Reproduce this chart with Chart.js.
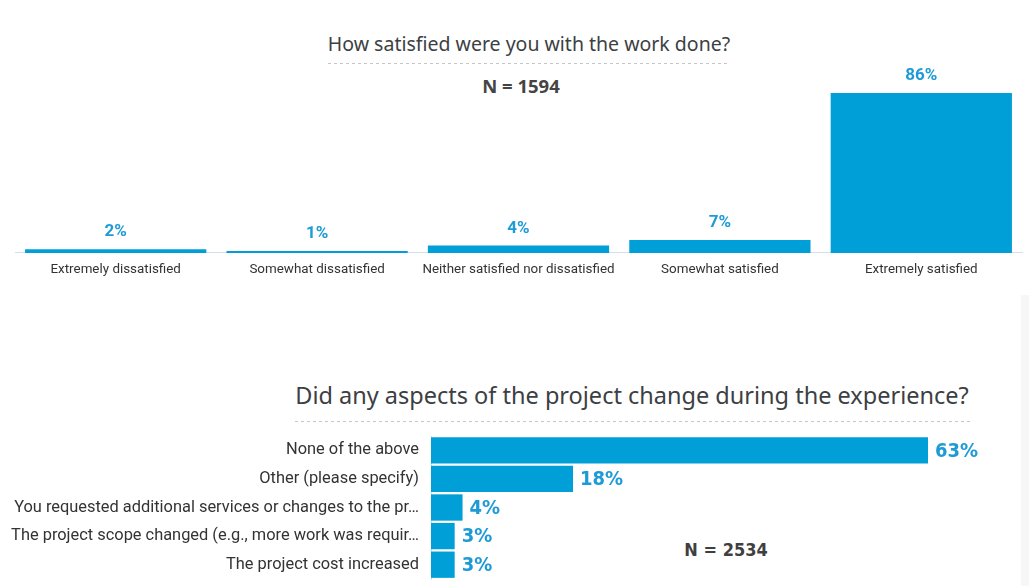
<!DOCTYPE html>
<html>
<head>
<meta charset="utf-8">
<script src="https://cdn.jsdelivr.net/npm/chart.js@4/dist/chart.umd.min.js"></script>
<style>
  html, body { margin: 0; padding: 0; background: #fff; }
  body { width: 1029px; height: 586px; position: relative; overflow: hidden; }
  .title { position: absolute; text-align: center; font-family: "Noto Sans", sans-serif; color: #3c4043; white-space: nowrap; transform: translateX(-50%); }
  .dash { position: absolute; height: 1px; background: repeating-linear-gradient(to right, #c6c6c6 0 3px, transparent 3px 6px); }
  .n { position: absolute; font-weight: bold; color: #444; white-space: nowrap; transform: translateX(-50%); }
  canvas { position: absolute; left: 0; }
  #strip { position: absolute; left: 1021px; top: 295px; width: 8px; height: 291px; background: #f7f7f7; }
</style>
</head>
<body>
<div id="strip"></div>
<div class="title" style="left:529px; top:32px; font-size:19.5px; line-height:24px;">How satisfied were you with the work done?</div>
<div class="dash" style="left:328px; top:63px; width:402px;"></div>
<div class="n" style="left:521px; top:75px; font-family:'Noto Sans',sans-serif; font-size:18.5px; line-height:22px;">N = 1594</div>

<div class="title" style="left:632px; top:380px; font-size:23.5px; line-height:30px;">Did any aspects of the project change during the experience?</div>
<div class="dash" style="left:295px; top:421px; width:675px;"></div>
<div class="n" style="left:726px; top:539px; font-family:'DejaVu Sans Condensed',sans-serif; font-size:18px; line-height:22px; color:#3f3f3f;">N = 2534</div>

<canvas id="top" width="1029" height="295" style="top:0"></canvas>
<canvas id="bottom" width="1029" height="161" style="top:425px"></canvas>

<script>
const satisfactionLabels = ["Extremely dissatisfied", "Somewhat dissatisfied", "Neither satisfied nor dissatisfied", "Somewhat satisfied", "Extremely satisfied"];
const satisfactionValues = [2, 1, 4, 7, 86];

const changeLabels = [
  "None of the above",
  "Other (please specify)",
  "You requested additional services or changes to the pr\u2026",
  "The project scope changed (e.g., more work was requir\u2026",
  "The project cost increased"
];
const changeValues = [63, 18, 4, 3, 3];

const barColor = "#019fd8";
const labelColor = "#1e9bd6";
const axisColor = "#d3def0";

// draws "NN%" next to each bar
const valueLabels = {
  id: "valueLabels",
  afterDatasetsDraw(chart, args, opts) {
    const ctx = chart.ctx;
    const meta = chart.getDatasetMeta(0);
    const data = chart.data.datasets[0].data;
    ctx.save();
    ctx.fillStyle = labelColor;
    ctx.font = opts.font;
    ctx.textBaseline = "middle";
    meta.data.forEach((bar, i) => {
      const txt = data[i] + "%";
      if (opts.horizontal) {
        ctx.textAlign = "left";
        ctx.fillText(txt, bar.x + 7, bar.y + 1);
      } else {
        ctx.textAlign = "center";
        ctx.fillText(txt, bar.x, bar.y - 17);
      }
    });
    ctx.restore();
  }
};

new Chart(document.getElementById("top").getContext("2d"), {
  type: "bar",
  data: {
    labels: satisfactionLabels,
    datasets: [{
      data: satisfactionValues,
      backgroundColor: barColor,
      barPercentage: 0.9,
      categoryPercentage: 1
    }]
  },
  options: {
    responsive: false,
    animation: false,
    layout: { padding: { left: 15, right: 7, top: 67, bottom: 8 } },
    plugins: {
      legend: { display: false },
      tooltip: { enabled: false },
      valueLabels: { font: "bold 17px Roboto" }
    },
    scales: {
      x: {
        grid: { display: false, drawTicks: false },
        border: { color: axisColor, width: 1 },
        ticks: { color: "#333", font: { family: "Roboto", size: 13.4 }, padding: 9, maxRotation: 0, autoSkip: false }
      },
      y: { display: false, min: 0, max: 100 }
    }
  },
  plugins: [valueLabels]
});

new Chart(document.getElementById("bottom").getContext("2d"), {
  type: "bar",
  data: {
    labels: changeLabels,
    datasets: [{
      data: changeValues,
      backgroundColor: barColor,
      barPercentage: 0.92,
      categoryPercentage: 1
    }]
  },
  options: {
    indexAxis: "y",
    responsive: false,
    animation: false,
    layout: { padding: { left: 0, right: 101, top: 11, bottom: 7 } },
    plugins: {
      legend: { display: false },
      tooltip: { enabled: false },
      valueLabels: { font: "bold 20px 'DejaVu Sans Condensed'", horizontal: true }
    },
    scales: {
      x: { display: false, min: 0, max: 63 },
      y: {
        grid: { display: false, drawTicks: false },
        border: { color: axisColor, width: 1 },
        ticks: { color: "#333", font: { family: "Roboto", size: 16.4 }, padding: 12, autoSkip: false },
        afterFit(scale) {
          scale.width = 431;
          scale.paddingTop = 0;
          scale.paddingBottom = 0;
        }
      }
    }
  },
  plugins: [valueLabels]
});
</script>
</body>
</html>
